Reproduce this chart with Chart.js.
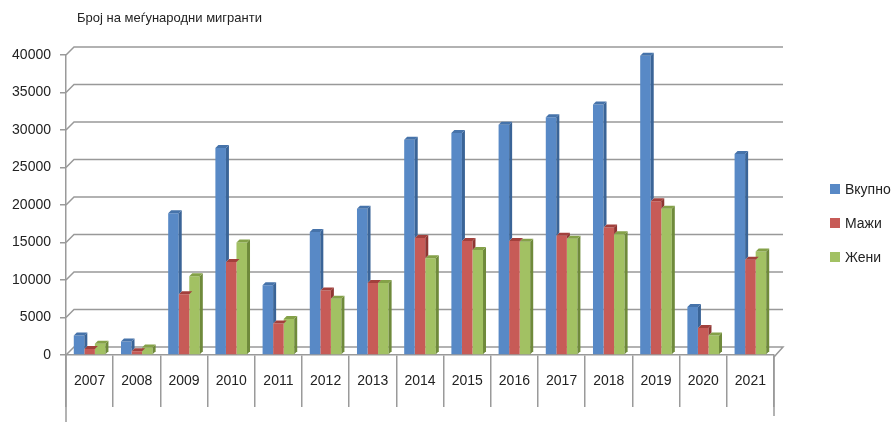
<!DOCTYPE html>
<html lang="mk">
<head>
    <meta charset="UTF-8">
    <title>Број на меѓународни мигранти</title>
    <script src="https://cdn.jsdelivr.net/npm/chart.js"></script>
    <style>
        body { margin: 0; background: #fff; }
        #wrap { width: 895px; height: 422px; }
    </style>
</head>
<body>
    <div id="wrap">
        <canvas id="migrantsChart" width="895" height="422"></canvas>
    </div>

    <script>
        // data
        const chartTitle = 'Број на меѓународни мигранти';
        const years = ['2007', '2008', '2009', '2010', '2011', '2012', '2013', '2014',
                       '2015', '2016', '2017', '2018', '2019', '2020', '2021'];
        const seriesNames = ['Вкупно', 'Мажи', 'Жени'];
        const vkupno = [2600, 1800, 18900, 27600, 9300, 16400, 19500, 28700, 29600, 30700, 31700, 33400, 39900, 6400, 26800];
        const mazhi  = [800, 500, 8100, 12400, 4200, 8600, 9600, 15600, 15200, 15200, 15900, 17000, 20500, 3600, 12700];
        const zheni  = [1500, 1000, 10500, 15000, 4800, 7500, 9600, 12900, 14000, 15100, 15500, 16100, 19500, 2600, 13800];
        const yTicks = [0, 5000, 10000, 15000, 20000, 25000, 30000, 35000, 40000];

        const fontFamily = '"Liberation Sans", Arial, sans-serif';
        const colors = [
            { front: '#5889c6', side: '#3a6497', top: '#4673aa' },
            { front: '#c75b57', side: '#8e3532', top: '#a2403c' },
            { front: '#a2c163', side: '#6f8a3b', top: '#84a148' }
        ];
        const depth = 3;     // bar 3d depth
        const wall = 8;      // back wall offset

        // fake 3d: back grid, bar side/top faces, legend and title
        const threeD = {
            id: 'threeD',
            beforeDatasetsDraw(chart) {
                const ctx = chart.ctx;
                const area = chart.chartArea;
                const y = chart.scales.y;
                ctx.save();
                ctx.strokeStyle = '#999';
                ctx.lineWidth = 1.5;
                yTicks.forEach(v => {
                    const py = y.getPixelForValue(v);
                    ctx.beginPath();
                    ctx.moveTo(area.left, py);
                    ctx.lineTo(area.left + wall, py - wall);
                    ctx.lineTo(area.right + wall + 1, py - wall);
                    if (v === 0) ctx.lineTo(area.right, py + 2);
                    ctx.stroke();
                });
                ctx.restore();
            },
            afterDatasetDraw(chart, args) {
                const ctx = chart.ctx;
                const c = colors[args.index];
                // the bar to the right hides the lower part of this bar's side face
                const nextMeta = args.index < chart.data.datasets.length - 1
                    ? chart.getDatasetMeta(args.index + 1) : null;
                args.meta.data.forEach((bar, j) => {
                    const p = bar.getProps(['x', 'y', 'base', 'width'], true);
                    const l = p.x - p.width / 2, r = p.x + p.width / 2;
                    ctx.save();
                    if (nextMeta) {
                        const ny = nextMeta.data[j].getProps(['y'], true).y;
                        ctx.beginPath();
                        ctx.moveTo(r - 1, 0);
                        ctx.lineTo(r + depth + 1, 0);
                        ctx.lineTo(r + depth + 1, ny - depth - 1);
                        ctx.lineTo(r, ny);
                        ctx.lineTo(r - 1, ny);
                        ctx.closePath();
                        ctx.clip();
                    }
                    ctx.fillStyle = c.side;
                    ctx.beginPath();
                    ctx.moveTo(r, p.y);
                    ctx.lineTo(r + depth, p.y - depth);
                    ctx.lineTo(r + depth, p.base - depth);
                    ctx.lineTo(r, p.base);
                    ctx.closePath();
                    ctx.fill();
                    ctx.restore();
                    ctx.save();
                    ctx.fillStyle = c.top;
                    ctx.beginPath();
                    ctx.moveTo(l, p.y);
                    ctx.lineTo(l + depth, p.y - depth);
                    ctx.lineTo(r + depth, p.y - depth);
                    ctx.lineTo(r, p.y);
                    ctx.closePath();
                    ctx.fill();
                    ctx.restore();
                });
            },
            afterDraw(chart) {
                const ctx = chart.ctx;
                const area = chart.chartArea;
                ctx.save();
                // table lines below the category axis
                ctx.strokeStyle = '#9a9a9a';
                ctx.lineWidth = 1.5;
                ctx.beginPath();
                ctx.moveTo(area.left, area.bottom);
                ctx.lineTo(area.left, 422);
                ctx.moveTo(area.right, area.bottom);
                ctx.lineTo(area.right, 416);
                ctx.stroke();

                ctx.fillStyle = '#222';
                ctx.font = '13px ' + fontFamily;
                ctx.textBaseline = 'middle';
                ctx.fillText(chartTitle, 77, 18);

                ctx.font = '14px ' + fontFamily;
                const rows = [189, 223, 257];
                chart.data.datasets.forEach((ds, i) => {
                    ctx.fillStyle = colors[i].front;
                    ctx.fillRect(830, rows[i] - 5, 10, 10);
                    ctx.fillStyle = '#222';
                    ctx.fillText(ds.label, 845, rows[i] + 1);
                });
                ctx.restore();
            }
        };

        new Chart(document.getElementById('migrantsChart'), {
            type: 'bar',
            data: {
                labels: years,
                datasets: [
                    { label: seriesNames[0], data: vkupno, backgroundColor: colors[0].front },
                    { label: seriesNames[1], data: mazhi, backgroundColor: colors[1].front },
                    { label: seriesNames[2], data: zheni, backgroundColor: colors[2].front }
                ]
            },
            options: {
                responsive: false,
                animation: false,
                layout: { padding: { top: 55, right: 121, bottom: 0, left: 0 } },
                datasets: {
                    bar: { categoryPercentage: 0.67, barPercentage: 1.0 }
                },
                plugins: {
                    legend: { display: false },
                    title: { display: false },
                    tooltip: { enabled: false }
                },
                scales: {
                    x: {
                        offset: true,
                        grid: {
                            offset: true,
                            drawOnChartArea: false,
                            drawTicks: true,
                            tickLength: 52,
                            color: '#9a9a9a',
                            lineWidth: 1.5
                        },
                        border: { display: true, color: '#9a9a9a', width: 1.5 },
                        ticks: {
                            color: '#222',
                            font: { family: fontFamily, size: 14 },
                            padding: -34,
                            maxRotation: 0,
                            autoSkip: false
                        },
                        afterFit(scale) { scale.height = 67; }
                    },
                    y: {
                        min: 0,
                        max: 40000,
                        grid: {
                            drawOnChartArea: false,
                            drawTicks: true,
                            tickLength: 6,
                            color: '#9a9a9a',
                            lineWidth: 1.5
                        },
                        border: { display: true, color: '#9a9a9a', width: 1.5 },
                        ticks: {
                            stepSize: 5000,
                            color: '#222',
                            padding: 9,
                            font: { family: fontFamily, size: 14 },
                            callback: v => String(v)
                        },
                        afterFit(scale) { scale.width = 66; }
                    }
                }
            },
            plugins: [threeD]
        });
    </script>
</body>
</html>
